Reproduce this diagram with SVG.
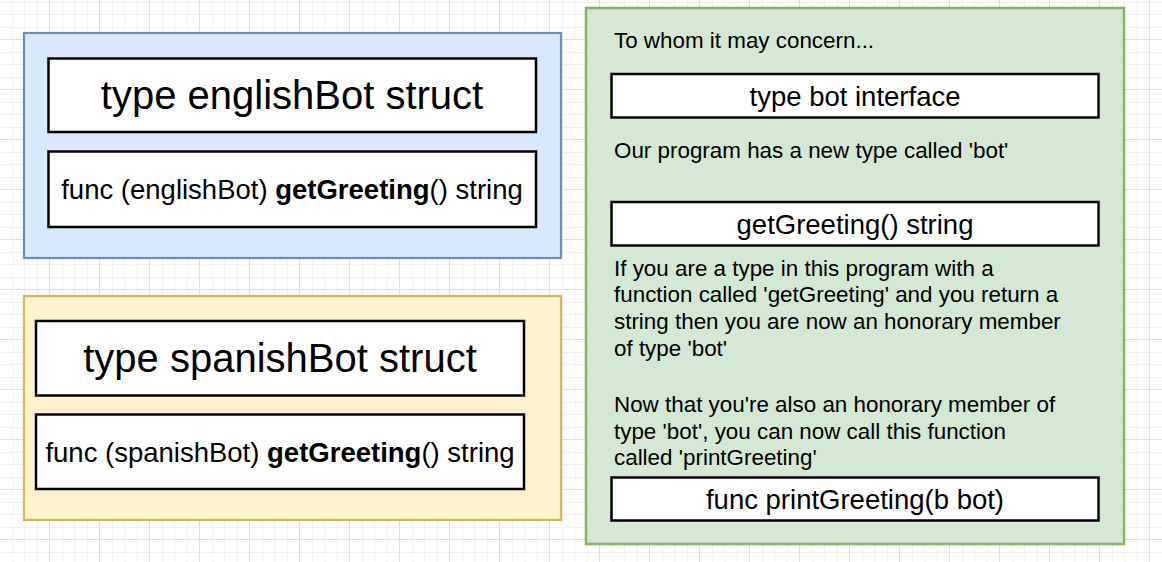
<svg xmlns="http://www.w3.org/2000/svg" width="1162" height="562" viewBox="0 0 1162 562">
  <defs>
    <pattern id="grid" x="0" y="0" width="50" height="50" patternUnits="userSpaceOnUse">
      <rect width="50" height="50" fill="#ffffff"/>
      <g stroke="#f2f2f2" stroke-width="1">
        <line x1="12.5" y1="0" x2="12.5" y2="50"/>
        <line x1="24.5" y1="0" x2="24.5" y2="50"/>
        <line x1="37.5" y1="0" x2="37.5" y2="50"/>
        <line x1="0" y1="2.5" x2="50" y2="2.5"/>
        <line x1="0" y1="14.5" x2="50" y2="14.5"/>
        <line x1="0" y1="27.5" x2="50" y2="27.5"/>
      </g>
      <g stroke="#e0e0e0" stroke-width="1">
        <line x1="49.5" y1="0" x2="49.5" y2="50"/>
        <line x1="0" y1="39.5" x2="50" y2="39.5"/>
      </g>
    </pattern>
  </defs>
  <style>
    .blue { fill: #dae8fc; stroke: #6c8ebf; stroke-width: 2.2; }
    .yellow { fill: #fff2cc; stroke: #d6b656; stroke-width: 2.2; }
    .green { fill: #d5e8d4; stroke: #82b366; stroke-width: 2.5; }
    .box { fill: #ffffff; stroke: #000000; stroke-width: 2.5; }
    text { font-family: "Liberation Sans", Arial, sans-serif; fill: #000000; }
    .big { font-size: 40px; text-anchor: middle; }
    .mid { font-size: 27.5px; text-anchor: middle; }
    .body { font-size: 22.4px; }
    .b { font-weight: bold; }
  </style>
  <rect width="1162" height="562" fill="url(#grid)"/>

  <g id="englishBot">
    <rect class="blue" x="24" y="33" width="537" height="225"/>
    <g id="englishBot-struct">
      <rect class="box" x="48.5" y="58.5" width="487.5" height="73.5"/>
      <text class="big" x="292" y="109">type englishBot struct</text>
    </g>
    <g id="englishBot-func">
      <rect class="box" x="48.5" y="151.5" width="487.5" height="75.5"/>
      <text class="mid" x="292" y="199">func (englishBot) <tspan class="b">getGreeting</tspan>() string</text>
    </g>
  </g>

  <g id="spanishBot">
    <rect class="yellow" x="24" y="296" width="537" height="224"/>
    <g id="spanishBot-struct">
      <rect class="box" x="36" y="321" width="488" height="74.5"/>
      <text class="big" x="280" y="372">type spanishBot struct</text>
    </g>
    <g id="spanishBot-func">
      <rect class="box" x="36" y="414.5" width="488" height="74.5"/>
      <text class="mid" x="280" y="461.5">func (spanishBot) <tspan class="b">getGreeting</tspan>() string</text>
    </g>
  </g>

  <g id="botInterface">
    <rect class="green" x="586" y="8" width="538" height="536"/>
    <text class="body" x="614" y="48">To whom it may concern...</text>
    <g id="type-bot">
      <rect class="box" x="611.5" y="74" width="487" height="43.5"/>
      <text class="mid" x="855" y="106">type bot interface</text>
    </g>
    <text class="body" x="614" y="158">Our program has a new type called 'bot'</text>
    <g id="getGreeting">
      <rect class="box" x="611.5" y="202" width="487" height="43.5"/>
      <text class="mid" x="855" y="234">getGreeting() string</text>
    </g>
    <text class="body" x="614" y="275.5">If you are a type in this program with a</text>
    <text class="body" x="614" y="302.3">function called 'getGreeting' and you return a</text>
    <text class="body" x="614" y="329">string then you are now an honorary member</text>
    <text class="body" x="614" y="355.8">of type 'bot'</text>
    <text class="body" x="614" y="411.7">Now that you're also an honorary member of</text>
    <text class="body" x="614" y="438.5">type 'bot', you can now call this function</text>
    <text class="body" x="614" y="465.2">called 'printGreeting'</text>
    <g id="printGreeting">
      <rect class="box" x="611.5" y="477.5" width="487" height="43"/>
      <text class="mid" x="855" y="509">func printGreeting(b bot)</text>
    </g>
  </g>

  <g id="connectors"/>
</svg>
